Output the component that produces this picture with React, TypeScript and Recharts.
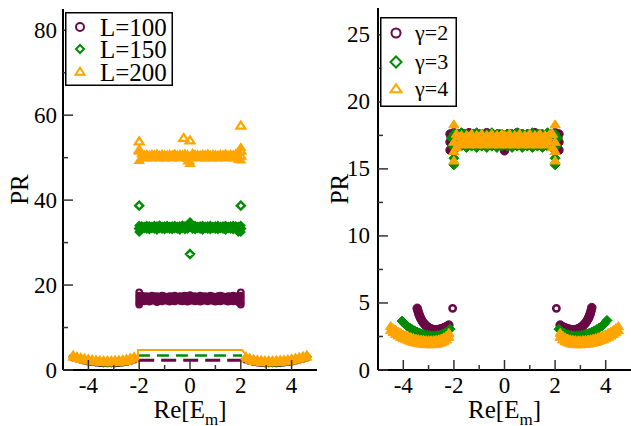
import React from 'react';
import { ScatterChart, Scatter, XAxis, YAxis, Legend } from 'recharts';

const FONT = "'Liberation Serif', 'Times New Roman', Times, 'DejaVu Serif', serif";
const PURPLE = '#6a0846';
const GREEN = '#008c00';
const ORANGE = '#ffa500';

// ---------- axis ticks ----------
const xTicks = [-4, -3, -2, -1, 0, 1, 2, 3, 4];
const xMajors = [-4, -2, 0, 2, 4];
const leftYTicks = [0, 10, 20, 30, 40, 50, 60, 70, 80];
const leftYMajors = [0, 20, 40, 60, 80];
const rightYTicks = [0, 2.5, 5, 7.5, 10, 12.5, 15, 17.5, 20, 22.5, 25];
const rightYMajors = [0, 5, 10, 15, 20, 25];

// ---------- legends ----------
const leftLegend = ['L=100', 'L=150', 'L=200'];
const rightLegend = ['\u03b3=2', '\u03b3=3', '\u03b3=4'];

// ---------- left panel data ----------
const bandX = [-2.0, -1.9, -1.8, -1.7, -1.6, -1.5, -1.4, -1.3, -1.2, -1.1,
  -1.0, -0.9, -0.8, -0.7, -0.6, -0.5, -0.4, -0.3, -0.2, -0.1,
  0.0, 0.1, 0.2, 0.3, 0.4, 0.5, 0.6, 0.7, 0.8, 0.9,
  1.0, 1.1, 1.2, 1.3, 1.4, 1.5, 1.6, 1.7, 1.8, 1.9, 2.0];

const l100Hi = [17.5, 17.5, 17.3, 17.4, 17.2, 17.5, 17.3, 17.4, 17.2, 17.5,
  17.3, 17.2, 17.4, 17.3, 17.5, 17.2, 17.4, 17.3, 17.5, 17.2,
  17.6, 17.3, 17.4, 17.2, 17.5, 17.3, 17.4, 17.2, 17.5, 17.3,
  17.2, 17.4, 17.5, 17.3, 17.2, 17.4, 17.3, 17.5, 17.3, 17.4, 17.5];
const l100Lo = [16.0, 16.4, 16.2, 16.5, 16.1, 16.4, 16.3, 16.0, 16.4, 16.2,
  16.5, 16.3, 16.1, 16.4, 16.2, 16.5, 16.3, 16.2, 16.4, 16.1,
  16.3, 16.4, 16.2, 16.5, 16.1, 16.3, 16.4, 16.2, 16.5, 16.3,
  16.1, 16.4, 16.2, 16.5, 16.3, 16.1, 16.4, 16.2, 16.5, 16.0, 16.0];
const l100EdgeX = [-2.0, -2.0, -2.0, 2.0, 2.0, 2.0];
const l100EdgeY = [18.3, 15.4, 16.8, 18.3, 15.4, 16.8];

const l150Hi = [34.0, 33.9, 33.8, 34.0, 33.9, 33.8, 34.0, 33.9, 34.1, 33.8,
  33.9, 34.0, 33.8, 33.9, 34.0, 33.8, 33.9, 34.1, 33.9, 34.0,
  34.6, 33.9, 34.0, 33.8, 33.9, 34.0, 33.8, 33.9, 34.0, 33.8,
  33.9, 34.0, 33.8, 33.9, 34.0, 33.8, 33.9, 34.0, 33.9, 33.8, 34.0];
const l150Lo = [32.5, 33.1, 33.3, 33.2, 33.1, 33.3, 33.2, 33.0, 33.3, 33.2,
  33.1, 33.3, 33.2, 33.1, 33.3, 33.2, 33.0, 33.3, 33.1, 33.2,
  33.6, 33.2, 33.1, 33.3, 33.2, 33.0, 33.3, 33.2, 33.1, 33.3,
  33.2, 33.1, 33.3, 33.2, 33.0, 33.3, 33.2, 33.1, 33.3, 32.5, 32.5];
const l150EdgeX = [-2.0, 2.0, 0.0, -2.0, 2.0, 0.0];
const l150EdgeY = [38.7, 38.7, 27.3, 33.3, 33.3, 34.7];

const l200Hi = [51.5, 50.9, 50.7, 50.8, 50.6, 50.8, 50.7, 50.9, 50.6, 50.8,
  50.7, 50.6, 50.8, 50.7, 50.9, 50.6, 50.8, 50.7, 50.9, 50.7,
  50.4, 51.0, 50.8, 50.7, 50.6, 50.8, 50.7, 50.9, 50.6, 50.8,
  50.7, 50.6, 50.8, 50.7, 50.9, 50.6, 50.8, 50.7, 50.9, 51.2, 52.4];
const l200Lo = [49.3, 49.9, 50.0, 49.9, 50.1, 49.9, 50.0, 50.1, 49.9, 50.0,
  49.9, 50.1, 50.0, 49.9, 50.0, 50.1, 49.9, 50.0, 50.1, 49.8,
  48.6, 49.9, 50.0, 50.1, 49.9, 50.0, 49.9, 50.1, 50.0, 49.9,
  50.0, 49.9, 50.1, 50.0, 49.9, 50.0, 50.1, 49.9, 50.0, 49.6, 49.4];
const l200EdgeX = [-2.0, -0.25, 0.0, 2.0, -2.0, 2.0, -0.05, 2.0];
const l200EdgeY = [53.8, 54.6, 54.0, 57.5, 51.8, 51.6, 49.3, 50.4];

const outerLX = [-4.6, -4.45, -4.3, -4.15, -4.0, -3.85, -3.7, -3.55, -3.4, -3.25, -3.1, -2.95, -2.8, -2.65, -2.5, -2.35, -2.2];
const outerRX = [2.2, 2.35, 2.5, 2.65, 2.8, 2.95, 3.1, 3.25, 3.4, 3.55, 3.7, 3.85, 4.0, 4.15, 4.3, 4.45, 4.6];

const l100OutL = [3.0, 2.65, 2.4, 2.2, 2.0, 1.85, 1.75, 1.65, 1.6, 1.58, 1.58, 1.6, 1.65, 1.75, 1.9, 2.1, 2.45];
const l100OutR = [2.4, 2.1, 1.9, 1.75, 1.65, 1.6, 1.58, 1.58, 1.6, 1.65, 1.75, 1.85, 2.0, 2.2, 2.4, 2.65, 2.95];
const l150OutL = [3.2, 2.85, 2.6, 2.4, 2.2, 2.05, 1.95, 1.85, 1.8, 1.78, 1.78, 1.8, 1.85, 1.95, 2.1, 2.35, 2.7];
const l150OutR = [2.7, 2.35, 2.1, 1.95, 1.85, 1.8, 1.78, 1.78, 1.8, 1.85, 1.95, 2.05, 2.2, 2.4, 2.6, 2.85, 3.2];
const l200OutLLo = [3.0, 2.7, 2.45, 2.25, 2.1, 1.95, 1.85, 1.8, 1.75, 1.7, 1.7, 1.72, 1.78, 1.88, 2.0, 2.25, 2.6];
const l200OutLHi = [3.5, 3.2, 3.0, 2.8, 2.65, 2.5, 2.4, 2.35, 2.3, 2.3, 2.3, 2.32, 2.38, 2.48, 2.62, 2.85, 3.15];
const l200OutRLo = [2.6, 2.25, 2.0, 1.85, 1.75, 1.7, 1.7, 1.7, 1.72, 1.78, 1.85, 1.95, 2.1, 2.3, 2.5, 2.75, 3.0];
const l200OutRHi = [3.15, 2.85, 2.6, 2.45, 2.35, 2.3, 2.3, 2.3, 2.32, 2.38, 2.45, 2.55, 2.7, 2.85, 3.05, 3.3, 3.55];

const l100LineX = [-2.0, 2.0];
const l100LineY = [2.3, 2.3];
const l150LineX = [-2.05, 2.05];
const l150LineY = [3.4, 3.4];
const l200LineX = [-4.6, -4.0, -3.4, -2.8, -2.3, -2.05, -2.05, 2.05, 2.3, 2.8, 3.4, 4.0, 4.6];
const l200LineY = [3.3, 2.5, 2.1, 2.1, 2.7, 3.0, 4.7, 4.7, 2.9, 2.1, 2.0, 2.4, 3.2];

// ---------- right panel data ----------
const g2Hi = [17.7, 17.5, 17.6, 17.4, 17.6, 17.5, 17.7, 17.4, 17.6, 17.5,
  17.6, 17.4, 17.5, 17.7, 17.4, 17.6, 17.5, 17.4, 17.6, 17.5,
  17.2, 17.5, 17.6, 17.4, 17.5, 17.7, 17.4, 17.6, 17.5, 17.4,
  17.6, 17.5, 17.7, 17.4, 17.6, 17.5, 17.4, 17.6, 17.5, 17.5, 17.7];
const g2Lo = [16.4, 16.8, 16.9, 16.8, 16.9, 16.8, 16.9, 16.8, 16.9, 16.8,
  16.9, 16.8, 16.9, 16.8, 16.9, 16.8, 16.9, 16.8, 16.9, 16.8,
  16.35, 16.8, 16.9, 16.8, 16.9, 16.8, 16.9, 16.8, 16.9, 16.8,
  16.9, 16.8, 16.9, 16.8, 16.9, 16.8, 16.9, 16.8, 16.9, 16.8, 16.4];
const g2EdgeX = [-2.15, -2.15, -2.15, 2.15, 2.15, 2.15];
const g2EdgeY = [17.6, 17.0, 16.4, 17.6, 17.0, 16.4];

const g3Hi = [17.6, 17.6, 17.5, 17.7, 17.5, 17.6, 17.4, 17.6, 17.5, 17.7,
  17.5, 17.6, 17.4, 17.6, 17.5, 17.7, 17.5, 17.6, 17.4, 17.6,
  17.5, 17.6, 17.4, 17.6, 17.5, 17.7, 17.5, 17.6, 17.4, 17.6,
  17.5, 17.7, 17.5, 17.6, 17.4, 17.6, 17.5, 17.7, 17.6, 17.6, 17.6];
const g3Lo = [15.3, 16.6, 16.8, 16.7, 16.8, 16.6, 16.8, 16.7, 16.8, 16.6,
  16.8, 16.7, 16.8, 16.6, 16.8, 16.7, 16.8, 16.6, 16.8, 16.7,
  16.8, 16.7, 16.8, 16.6, 16.8, 16.7, 16.8, 16.6, 16.8, 16.7,
  16.8, 16.6, 16.8, 16.7, 16.8, 16.6, 16.8, 16.7, 16.8, 16.6, 15.3];
const g3EdgeX = [-2.0, 2.0, -2.05, 2.05, -2.1, 2.1];
const g3EdgeY = [15.8, 15.8, 16.7, 16.7, 17.3, 17.3];

const g4Hi = [18.3, 17.6, 17.4, 17.5, 17.3, 17.5, 17.4, 17.6, 17.3, 17.5,
  17.4, 17.6, 17.3, 17.5, 17.4, 17.6, 17.3, 17.5, 17.4, 17.6,
  17.5, 17.4, 17.6, 17.3, 17.5, 17.4, 17.6, 17.3, 17.5, 17.4,
  17.6, 17.3, 17.5, 17.4, 17.6, 17.3, 17.5, 17.4, 17.6, 17.6, 18.3];
const g4Lo = [15.6, 16.6, 16.9, 16.8, 17.0, 16.9, 16.8, 17.0, 16.9, 16.8,
  17.0, 16.9, 16.8, 17.0, 16.9, 16.8, 17.0, 16.9, 16.8, 17.0,
  16.9, 16.8, 17.0, 16.9, 16.8, 17.0, 16.9, 16.8, 17.0, 16.9,
  16.8, 17.0, 16.9, 16.8, 17.0, 16.9, 16.8, 17.0, 16.9, 16.6, 15.6];
const g4EdgeX = [-2.0, 2.0, -2.0, 2.0];
const g4EdgeY = [17.0, 17.0, 16.3, 16.3];

const g2ArcLX = [-3.45, -3.42, -3.39, -3.36, -3.33, -3.3, -3.25, -3.2, -3.15, -3.1, -3.05, -3.0, -2.95, -2.9,
  -2.85, -2.8, -2.75, -2.7, -2.65, -2.6, -2.55, -2.5, -2.45, -2.4, -2.35, -2.3, -2.25, -2.2];
const g2ArcLY = [4.6, 4.4, 4.22, 4.06, 3.92, 3.8, 3.64, 3.5, 3.4, 3.3, 3.22, 3.16, 3.1, 3.06,
  3.03, 3.0, 3.0, 2.99, 3.0, 3.02, 3.04, 3.07, 3.1, 3.14, 3.18, 3.22, 3.28, 3.35];
const g2ArcRX = [2.2, 2.25, 2.3, 2.35, 2.4, 2.45, 2.5, 2.55, 2.6, 2.65, 2.7, 2.75, 2.8, 2.85,
  2.9, 2.95, 3.0, 3.05, 3.1, 3.15, 3.2, 3.25, 3.3, 3.33, 3.36, 3.39, 3.42, 3.45];
const g2ArcRY = [3.35, 3.28, 3.22, 3.18, 3.14, 3.1, 3.07, 3.04, 3.02, 3.0, 2.99, 3.0, 3.0, 3.03,
  3.06, 3.1, 3.16, 3.22, 3.3, 3.4, 3.5, 3.64, 3.8, 3.92, 4.06, 4.22, 4.42, 4.65];
const g2IsoX = [-2.05, 2.05];
const g2IsoY = [4.6, 4.6];

const g3ArcLX = [-4.05, -3.95, -3.85, -3.75, -3.65, -3.55, -3.45, -3.35, -3.25, -3.15,
  -3.05, -2.95, -2.85, -2.75, -2.65, -2.55, -2.45, -2.35, -2.25, -2.15];
const g3ArcLY = [3.65, 3.45, 3.28, 3.14, 3.02, 2.92, 2.83, 2.75, 2.69, 2.63,
  2.59, 2.56, 2.55, 2.55, 2.57, 2.61, 2.67, 2.76, 2.88, 3.05];
const g3ArcRX = [2.15, 2.25, 2.35, 2.45, 2.55, 2.65, 2.75, 2.85, 2.95, 3.05,
  3.15, 3.25, 3.35, 3.45, 3.55, 3.65, 3.75, 3.85, 3.95, 4.05];
const g3ArcRY = [3.05, 2.88, 2.76, 2.67, 2.61, 2.57, 2.55, 2.55, 2.56, 2.59,
  2.63, 2.69, 2.75, 2.83, 2.92, 3.02, 3.14, 3.28, 3.45, 3.7];

const g4ArcLX = [-4.5, -4.4, -4.3, -4.2, -4.1, -4.0, -3.9, -3.8, -3.7, -3.6, -3.5, -3.4,
  -3.3, -3.2, -3.1, -3.0, -2.9, -2.8, -2.7, -2.6, -2.5, -2.4, -2.3, -2.2];
const g4ArcLHi = [3.25, 3.1, 2.97, 2.85, 2.75, 2.65, 2.57, 2.5, 2.43, 2.37, 2.32, 2.28,
  2.25, 2.23, 2.21, 2.2, 2.2, 2.21, 2.23, 2.27, 2.33, 2.42, 2.55, 2.75];
const g4ArcLLo = [2.95, 2.8, 2.67, 2.55, 2.45, 2.35, 2.27, 2.2, 2.13, 2.07, 2.02, 1.98,
  1.95, 1.93, 1.91, 1.9, 1.9, 1.91, 1.93, 1.97, 2.03, 2.12, 2.25, 2.45];
const g4ArcRX = [2.2, 2.3, 2.4, 2.5, 2.6, 2.7, 2.8, 2.9, 3.0, 3.1, 3.2, 3.3,
  3.4, 3.5, 3.6, 3.7, 3.8, 3.9, 4.0, 4.1, 4.2, 4.3, 4.4, 4.5];
const g4ArcRHi = [2.75, 2.55, 2.42, 2.33, 2.27, 2.23, 2.21, 2.2, 2.2, 2.21, 2.23, 2.25,
  2.28, 2.32, 2.37, 2.43, 2.5, 2.57, 2.65, 2.75, 2.85, 2.97, 3.1, 3.25];
const g4ArcRLo = [2.45, 2.25, 2.12, 2.03, 1.97, 1.93, 1.91, 1.9, 1.9, 1.91, 1.93, 1.95,
  1.98, 2.02, 2.07, 2.13, 2.2, 2.27, 2.35, 2.45, 2.55, 2.67, 2.8, 2.95];

// ---------- helpers ----------
const zip = (xs: number[], ys: number[]) => xs.map((x, i) => ({ x, y: ys[i] }));

const circle = (r: number, sw: number, color: string, fill = 'none') => (p: any) =>
  <circle cx={p.cx} cy={p.cy} r={r} fill={fill} stroke={color} strokeWidth={sw} />;
const diamond = (h: number, sw: number, color: string, fill = 'none') => (p: any) =>
  <polygon points={`${p.cx},${p.cy - h} ${p.cx + h},${p.cy} ${p.cx},${p.cy + h} ${p.cx - h},${p.cy}`}
    fill={fill} stroke={color} strokeWidth={sw} strokeLinejoin="miter" />;
const triangle = (w: number, h: number, sw: number, color: string, fill = 'none') => (p: any) =>
  <polygon points={`${p.cx},${p.cy - h * 0.6} ${p.cx + w},${p.cy + h * 0.4} ${p.cx - w},${p.cy + h * 0.4}`}
    fill={fill} stroke={color} strokeWidth={sw} strokeLinejoin="miter" />;
const noDot = () => <g />;

const TICK_COLOR = '#333';
const isMajor = (v: number, majors: number[]) => majors.includes(v);
const textStyle = { fontFamily: FONT };

const BottomTick = (props: any) => {
  const { x, y, payload, majors, fontSize } = props;
  const major = isMajor(payload.value, majors);
  return (
    <g>
      <line x1={x} x2={x} y1={y} y2={y - (major ? 10 : 5)} stroke={TICK_COLOR} strokeWidth={1.5} />
      {major && (
        <text x={x} y={y + 23} textAnchor="middle" style={textStyle} fontSize={fontSize} fill="#000">
          {String(payload.value)}
        </text>
      )}
    </g>
  );
};
const TopTick = (props: any) => {
  const { x, y, payload, majors } = props;
  const major = isMajor(payload.value, majors);
  return <line x1={x} x2={x} y1={y} y2={y + (major ? 10 : 5)} stroke={TICK_COLOR} strokeWidth={1.5} />;
};
const LeftTick = (props: any) => {
  const { x, y, payload, majors, fontSize, gap } = props;
  const major = isMajor(payload.value, majors);
  return (
    <g>
      <line x1={x} x2={x + (major ? 10 : 5)} y1={y} y2={y} stroke={TICK_COLOR} strokeWidth={1.5} />
      {major && (
        <text x={x - gap} y={y + 7.5} textAnchor="end" style={textStyle} fontSize={fontSize} fill="#000">
          {String(payload.value)}
        </text>
      )}
    </g>
  );
};
const RightTick = (props: any) => {
  const { x, y, payload, majors } = props;
  const major = isMajor(payload.value, majors);
  return <line x1={x} x2={x - (major ? 10 : 5)} y1={y} y2={y} stroke={TICK_COLOR} strokeWidth={1.5} />;
};

const XLabel = (props: any) => {
  const vb = props.viewBox || {};
  const cx = vb.x + vb.width / 2;
  return (
    <text x={cx} y={vb.y + 48} textAnchor="middle" style={textStyle} fontSize={25} fill="#000">
      Re[E<tspan dy={7} fontSize={17}>m</tspan><tspan dy={-7}>]</tspan>
    </text>
  );
};
const YLabel = (props: any) => {
  const vb = props.viewBox || {};
  const x = vb.x + 28;
  const y = vb.y + vb.height / 2;
  return (
    <text x={x} y={y} transform={`rotate(-90 ${x} ${y})`} textAnchor="middle" style={textStyle} fontSize={25} fill="#000">
      PR
    </text>
  );
};

const axisLine = { stroke: '#000', strokeWidth: 2 };

const LegendBox = ({ labels, width, height, rows, textX, fontSize, markers }: any) => (
  <svg width={width} height={height} style={{ display: 'block' }}>
    <rect x={0.75} y={0.75} width={width - 1.5} height={height - 1.5} fill="#fff" stroke="#000" strokeWidth={1.5} />
    {labels.map((lab: string, i: number) => (
      <g key={lab}>
        {markers[i]({ cx: rows[i].mx, cy: rows[i].y })}
        <text x={textX} y={rows[i].y + fontSize * 0.34} style={textStyle} fontSize={fontSize} fill="#000">{lab}</text>
      </g>
    ))}
  </svg>
);

export default function App() {
  // left panel markers: filled for dense bands, hollow for isolated points
  const lcF = circle(3.2, 1.5, PURPLE, PURPLE);
  const lc = circle(2.8, 2.2, PURPLE);
  const ldF = diamond(4.2, 1.2, GREEN, GREEN);
  const ld = diamond(4, 2.4, GREEN);
  const ltF = triangle(4.6, 7, 1.2, ORANGE, ORANGE);
  const lt = triangle(4.5, 7, 2.2, ORANGE);
  // right panel markers
  const rcF = circle(4.3, 1, PURPLE, PURPLE);
  const rc = circle(3.2, 2.5, PURPLE);
  const rdF = diamond(5, 1, GREEN, GREEN);
  const rtF = triangle(5.2, 8, 1, ORANGE, ORANGE);

  return (
    <div style={{ position: 'absolute', left: 0, top: 0, width: 631, height: 426, overflow: 'hidden', background: '#fff' }}>
      {/* Left panel */}
      <div style={{ position: 'absolute', left: 0, top: 0 }}>
        <ScatterChart width={320} height={426} margin={{ top: 9, right: 3, bottom: 0, left: 0 }}>
          <XAxis xAxisId="b" type="number" dataKey="x" domain={[-5, 5]} allowDataOverflow ticks={xTicks} interval={0}
            orientation="bottom" height={56} tickSize={0} tickMargin={0} tickLine={false} axisLine={axisLine}
            tick={(p: any) => <BottomTick {...p} majors={xMajors} fontSize={23} />}
            label={(p: any) => <XLabel {...p} />} />
          <XAxis xAxisId="t" type="number" dataKey="x" domain={[-5, 5]} allowDataOverflow ticks={xTicks} interval={0}
            orientation="top" height={0} tickSize={0} tickMargin={0} tickLine={false} axisLine={axisLine}
            tick={(p: any) => <TopTick {...p} majors={xMajors} />} />
          <YAxis yAxisId="l" type="number" dataKey="y" domain={[0, 85]} allowDataOverflow ticks={leftYTicks} interval={0}
            orientation="left" width={63} tickSize={0} tickMargin={0} tickLine={false} axisLine={axisLine}
            tick={(p: any) => <LeftTick {...p} majors={leftYMajors} fontSize={23} gap={6} />}
            label={(p: any) => <YLabel {...p} />} />
          <YAxis yAxisId="r" type="number" dataKey="y" domain={[0, 85]} allowDataOverflow ticks={leftYTicks} interval={0}
            orientation="right" width={0} tickSize={0} tickMargin={0} tickLine={false} axisLine={axisLine}
            tick={(p: any) => <RightTick {...p} majors={leftYMajors} />} />

          <Scatter xAxisId="b" yAxisId="l" data={zip(outerLX, l100OutL)} shape={lcF} isAnimationActive={false} />
          <Scatter xAxisId="b" yAxisId="l" data={zip(outerRX, l100OutR)} shape={lcF} isAnimationActive={false} />
          <Scatter xAxisId="b" yAxisId="l" data={zip(bandX, l100Hi)} shape={lcF} isAnimationActive={false} />
          <Scatter xAxisId="b" yAxisId="l" data={zip(bandX, l100Lo)} shape={lcF} isAnimationActive={false} />
          <Scatter xAxisId="b" yAxisId="l" data={zip(l100EdgeX, l100EdgeY)} shape={lc} isAnimationActive={false} />

          <Scatter xAxisId="b" yAxisId="l" data={zip(outerLX, l150OutL)} shape={ldF} isAnimationActive={false} />
          <Scatter xAxisId="b" yAxisId="l" data={zip(outerRX, l150OutR)} shape={ldF} isAnimationActive={false} />
          <Scatter xAxisId="b" yAxisId="l" data={zip(bandX, l150Hi)} shape={ldF} isAnimationActive={false} />
          <Scatter xAxisId="b" yAxisId="l" data={zip(bandX, l150Lo)} shape={ldF} isAnimationActive={false} />
          <Scatter xAxisId="b" yAxisId="l" data={zip(l150EdgeX, l150EdgeY)} shape={ld} isAnimationActive={false} />

          <Scatter xAxisId="b" yAxisId="l" data={zip(outerLX, l200OutLLo)} shape={ltF} isAnimationActive={false} />
          <Scatter xAxisId="b" yAxisId="l" data={zip(outerLX, l200OutLHi)} shape={ltF} isAnimationActive={false} />
          <Scatter xAxisId="b" yAxisId="l" data={zip(outerRX, l200OutRLo)} shape={ltF} isAnimationActive={false} />
          <Scatter xAxisId="b" yAxisId="l" data={zip(outerRX, l200OutRHi)} shape={ltF} isAnimationActive={false} />
          <Scatter xAxisId="b" yAxisId="l" data={zip(bandX, l200Hi)} shape={ltF} isAnimationActive={false} />
          <Scatter xAxisId="b" yAxisId="l" data={zip(bandX, l200Lo)} shape={ltF} isAnimationActive={false} />
          <Scatter xAxisId="b" yAxisId="l" data={zip(l200EdgeX, l200EdgeY)} shape={lt} isAnimationActive={false} />

          <Scatter xAxisId="b" yAxisId="l" data={zip(l100LineX, l100LineY)} shape={noDot} isAnimationActive={false}
            line={{ stroke: PURPLE, strokeWidth: 3, strokeDasharray: '15 7' }} />
          <Scatter xAxisId="b" yAxisId="l" data={zip(l150LineX, l150LineY)} shape={noDot} isAnimationActive={false}
            line={{ stroke: GREEN, strokeWidth: 2.5, strokeDasharray: '12 7' }} />
          <Scatter xAxisId="b" yAxisId="l" data={zip(l200LineX, l200LineY)} shape={noDot} isAnimationActive={false}
            line={{ stroke: ORANGE, strokeWidth: 2 }} />

          <Legend layout="vertical" align="center" verticalAlign="middle"
            wrapperStyle={{ left: 65, top: 12, width: 108, height: 74 }}
            content={() => (
              <LegendBox labels={leftLegend} width={108} height={74} textX={35} fontSize={25}
                rows={[{ mx: 15, y: 15 }, { mx: 15, y: 37 }, { mx: 15, y: 60 }]}
                markers={[circle(4, 2, PURPLE), diamond(4, 2, GREEN), triangle(4.5, 7, 2, ORANGE)]} />
            )} />
        </ScatterChart>
      </div>

      {/* Right panel */}
      <div style={{ position: 'absolute', left: 320, top: 0 }}>
        <ScatterChart width={311} height={426} margin={{ top: 8, right: 0, bottom: 0, left: 0 }}>
          <XAxis xAxisId="b" type="number" dataKey="x" domain={[-5, 5]} allowDataOverflow ticks={xTicks} interval={0}
            orientation="bottom" height={56} tickSize={0} tickMargin={0} tickLine={false} axisLine={axisLine}
            tick={(p: any) => <BottomTick {...p} majors={xMajors} fontSize={23} />}
            label={(p: any) => <XLabel {...p} />} />
          <XAxis xAxisId="t" type="number" dataKey="x" domain={[-5, 5]} allowDataOverflow ticks={xTicks} interval={0}
            orientation="top" height={0} tickSize={0} tickMargin={0} tickLine={false} axisLine={axisLine}
            tick={(p: any) => <TopTick {...p} majors={xMajors} />} />
          <YAxis yAxisId="l" type="number" dataKey="y" domain={[0, 27]} allowDataOverflow ticks={rightYTicks} interval={0}
            orientation="left" width={58} tickSize={0} tickMargin={0} tickLine={false} axisLine={axisLine}
            tick={(p: any) => <LeftTick {...p} majors={rightYMajors} fontSize={23} gap={8} />}
            label={(p: any) => <YLabel {...p} />} />
          <YAxis yAxisId="r" type="number" dataKey="y" domain={[0, 27]} allowDataOverflow ticks={rightYTicks} interval={0}
            orientation="right" width={0} tickSize={0} tickMargin={0} tickLine={false} axisLine={axisLine}
            tick={(p: any) => <RightTick {...p} majors={rightYMajors} />} />

          <Scatter xAxisId="b" yAxisId="l" data={zip(g2ArcLX, g2ArcLY)} shape={rcF} isAnimationActive={false} />
          <Scatter xAxisId="b" yAxisId="l" data={zip(g2ArcRX, g2ArcRY)} shape={rcF} isAnimationActive={false} />
          <Scatter xAxisId="b" yAxisId="l" data={zip(g2IsoX, g2IsoY)} shape={rc} isAnimationActive={false} />
          <Scatter xAxisId="b" yAxisId="l" data={zip(bandX, g2Hi)} shape={rcF} isAnimationActive={false} />
          <Scatter xAxisId="b" yAxisId="l" data={zip(bandX, g2Lo)} shape={rcF} isAnimationActive={false} />
          <Scatter xAxisId="b" yAxisId="l" data={zip(g2EdgeX, g2EdgeY)} shape={rcF} isAnimationActive={false} />

          <Scatter xAxisId="b" yAxisId="l" data={zip(g3ArcLX, g3ArcLY)} shape={rdF} isAnimationActive={false} />
          <Scatter xAxisId="b" yAxisId="l" data={zip(g3ArcRX, g3ArcRY)} shape={rdF} isAnimationActive={false} />
          <Scatter xAxisId="b" yAxisId="l" data={zip(bandX, g3Hi)} shape={rdF} isAnimationActive={false} />
          <Scatter xAxisId="b" yAxisId="l" data={zip(bandX, g3Lo)} shape={rdF} isAnimationActive={false} />
          <Scatter xAxisId="b" yAxisId="l" data={zip(g3EdgeX, g3EdgeY)} shape={rdF} isAnimationActive={false} />

          <Scatter xAxisId="b" yAxisId="l" data={zip(g4ArcLX, g4ArcLHi)} shape={rtF} isAnimationActive={false} />
          <Scatter xAxisId="b" yAxisId="l" data={zip(g4ArcLX, g4ArcLLo)} shape={rtF} isAnimationActive={false} />
          <Scatter xAxisId="b" yAxisId="l" data={zip(g4ArcRX, g4ArcRHi)} shape={rtF} isAnimationActive={false} />
          <Scatter xAxisId="b" yAxisId="l" data={zip(g4ArcRX, g4ArcRLo)} shape={rtF} isAnimationActive={false} />
          <Scatter xAxisId="b" yAxisId="l" data={zip(bandX, g4Hi)} shape={rtF} isAnimationActive={false} />
          <Scatter xAxisId="b" yAxisId="l" data={zip(bandX, g4Lo)} shape={rtF} isAnimationActive={false} />
          <Scatter xAxisId="b" yAxisId="l" data={zip(g4EdgeX, g4EdgeY)} shape={rtF} isAnimationActive={false} />

          <Legend layout="vertical" align="center" verticalAlign="middle"
            wrapperStyle={{ left: 60, top: 17, width: 77, height: 90 }}
            content={() => (
              <LegendBox labels={rightLegend} width={77} height={90} textX={35} fontSize={22}
                rows={[{ mx: 16, y: 16 }, { mx: 16, y: 45 }, { mx: 16, y: 72 }]}
                markers={[circle(4.5, 2, PURPLE), diamond(5.5, 2, GREEN), triangle(5.5, 8, 2, ORANGE)]} />
            )} />
        </ScatterChart>
      </div>
    </div>
  );
}
